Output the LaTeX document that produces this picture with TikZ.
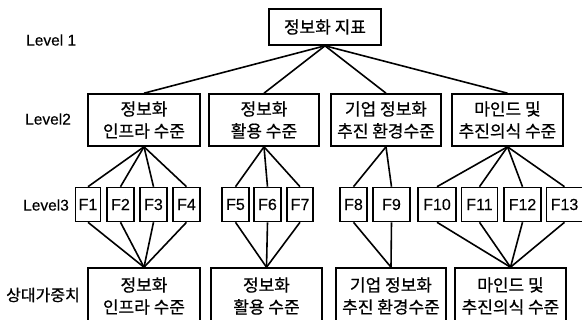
\documentclass[tikz,border=0pt]{standalone}
\usepackage{fontspec}
\setmainfont{Liberation Sans}
\newfontfamily\kr[FakeBold=0.6]{Noto Sans CJK KR}
\newfontfamily\lat[FakeBold=0.15]{Liberation Sans}
\begin{document}
\begin{tikzpicture}[x=1pt,y=-1pt,
  kbox/.style={draw, line width=1.6pt, inner sep=0pt, align=center,
    font=\kr\fontsize{17}{22}\selectfont},
  fbox/.style={draw, line width=1.6pt, inner sep=0pt, minimum height=34pt,
    font=\lat\fontsize{16}{18}\selectfont},
  lvl/.style={anchor=west, inner sep=0pt, font=\lat\fontsize{15.5}{18}\selectfont},
  link/.style={line width=1.6pt}]
\clip (0,0) rectangle (582,320);
\fill[white] (0,0) rectangle (582,320);
% level 1
\node[kbox, minimum width=112pt, minimum height=36pt] (top) at (325,27) {정보화 지표};
% level 2
\node[kbox, minimum width=112pt, minimum height=52pt] (a) at (144,120) {정보화\\인프라 수준};
\node[kbox, minimum width=110pt, minimum height=52pt] (b) at (264,120) {정보화\\활용 수준};
\node[kbox, minimum width=110pt, minimum height=52pt] (c) at (386,120) {기업 정보화\\추진 환경수준};
\node[kbox, minimum width=111pt, minimum height=52pt] (d) at (507.5,120) {마인드 및\\추진의식 수준};
% level 3
\node[fbox, minimum width=25pt] (f1) at (88,204.5) {F1};
\node[fbox, minimum width=27pt] (f2) at (120.5,204.5) {F2};
\node[fbox, minimum width=27pt] (f3) at (153.5,204.5) {F3};
\node[fbox, minimum width=27pt] (f4) at (186.5,204.5) {F4};
\node[fbox, minimum width=27pt] (f5) at (235.5,204.5) {F5};
\node[fbox, minimum width=27pt] (f6) at (267.5,204.5) {F6};
\node[fbox, minimum width=26pt] (f7) at (300,204.5) {F7};
\node[fbox, minimum width=27pt] (f8) at (353.5,204.5) {F8};
\node[fbox, minimum width=37pt] (f9) at (391.5,204.5) {F9};
\node[fbox, minimum width=38pt] (f10) at (437,204.5) {F10};
\node[fbox, minimum width=36pt] (f11) at (479.5,204.5) {F11};
\node[fbox, minimum width=37pt] (f12) at (522.5,204.5) {F12};
\node[fbox, minimum width=36pt] (f13) at (564.5,204.5) {F13};
% relative weights
\node[kbox, minimum width=112pt, minimum height=56pt] (A) at (144,296) {정보화\\인프라 수준};
\node[kbox, minimum width=111pt, minimum height=56pt] (B) at (266.5,296) {정보화\\활용 수준};
\node[kbox, minimum width=110pt, minimum height=56pt] (C) at (391,296) {기업 정보화\\추진 환경수준};
\node[kbox, minimum width=111pt, minimum height=56pt] (D) at (510.5,296) {마인드 및\\추진의식 수준};
% level labels
\node[lvl] (l1) at (26,40) {Level 1};
\node[lvl] (l2) at (25,119) {Level2};
\node[lvl] (l3) at (23,205) {Level3};
\node[lvl, font=\kr\fontsize{16}{18}\selectfont] (l4) at (6,295) {상대가중치};
% connectors
\foreach \n in {a,b,c,d} \draw[link] (top.south) -- (\n.north);
\foreach \n in {f1,f2,f3,f4} {\draw[link] (a.south) -- (\n.north); \draw[link] (\n.south) -- (A.north);}
\foreach \n in {f5,f6,f7} {\draw[link] (b.south) -- (\n.north); \draw[link] (\n.south) -- (B.north);}
\foreach \n in {f8,f9} {\draw[link] (c.south) -- (\n.north); \draw[link] (\n.south) -- (C.north);}
\foreach \n in {f10,f11,f12,f13} {\draw[link] (d.south) -- (\n.north); \draw[link] (\n.south) -- (D.north);}
\end{tikzpicture}
\end{document}
